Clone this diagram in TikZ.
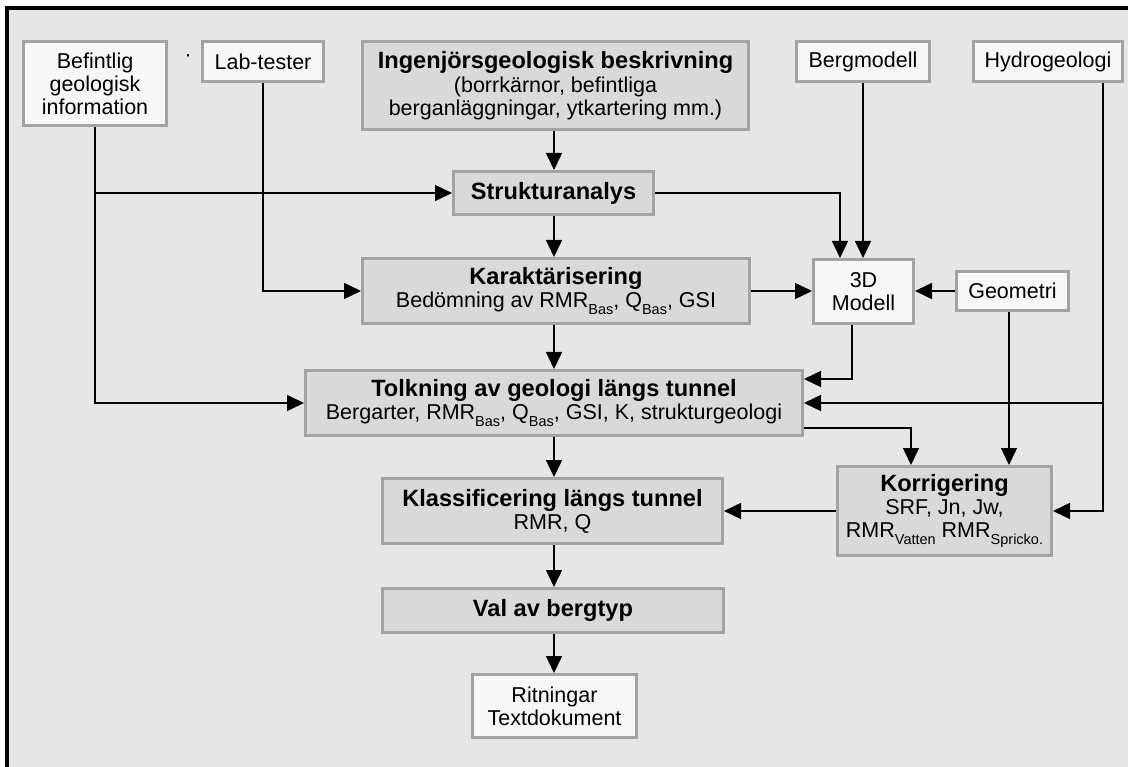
\documentclass[tikz,border=0pt]{standalone}
\usepackage{fontspec}
\setmainfont{Liberation Sans}
\usetikzlibrary{arrows.meta,calc}
\definecolor{bgc}{RGB}{230,230,230}
\definecolor{gbox}{RGB}{217,217,217}
\definecolor{wbox}{RGB}{247,247,247}
\definecolor{bord}{RGB}{163,163,163}
\newcommand{\lowsub}[1]{\raisebox{-0.3em}{\fontsize{14.5}{14.5}\selectfont #1}}
\newcommand{\ttl}[1]{{\fontsize{23.6}{25}\selectfont\bfseries #1}}
\tikzset{
  box/.style={draw=bord, line width=3pt, inner sep=0pt, align=center,
    font=\fontsize{21.5}{23}\selectfont, text=black},
  graybox/.style={box, fill=gbox},
  whitebox/.style={box, fill=wbox},
  arr/.style={line width=1.5pt, -{Triangle[length=17pt,width=16pt]}},
  ln/.style={line width=1.5pt}
}
\begin{document}
\begin{tikzpicture}[x=1pt,y=-1pt]
\useasboundingbox (0,0) rectangle (1128,767);
\fill[white] (0,0) rectangle (1128,767);
\fill[bgc] (7,8) rectangle (1128,767);
\draw[line width=4pt] (7,767) -- (7,8) -- (1128,8);

% nodes
\node[whitebox, minimum width=143pt, minimum height=84pt] (bef) at (95,83.5) {Befintlig\\geologisk\\information};
\node[font=\fontsize{21}{23}\selectfont] (dot) at (188,58) {·};
\node[whitebox, minimum width=121pt, minimum height=40pt] (lab) at (263,61.5) {Lab-tester};
\node[graybox, minimum width=386pt, minimum height=88pt] (ing) at (555.5,85.5)
  {\ttl{Ingenjörsgeologisk beskrivning}\\[1pt](borrkärnor, befintliga\\berganläggningar, ytkartering mm.)};
\node[whitebox, minimum width=133pt, minimum height=40pt] (berg) at (863,61.5) {Bergmodell};
\node[whitebox, minimum width=149pt, minimum height=40pt] (hyd) at (1048,61.5) {Hydrogeologi};
\node[graybox, minimum width=200pt, minimum height=43pt] (str) at (553.5,193) {\ttl{Strukturanalys}};
\node[graybox, minimum width=387pt, minimum height=65pt] (kar) at (556,291)
  {\ttl{Karaktärisering}\\Bedömning av RMR\lowsub{Bas}, Q\lowsub{Bas}, GSI};
\node[whitebox, minimum width=100pt, minimum height=64pt] (m3d) at (863.5,291.5) {3D\\Modell};
\node[whitebox, minimum width=112pt, minimum height=39pt] (geo) at (1012.5,291) {Geometri};
\node[graybox, minimum width=497pt, minimum height=65pt] (tol) at (554,403)
  {\ttl{Tolkning av geologi längs tunnel}\\Bergarter, RMR\lowsub{Bas}, Q\lowsub{Bas}, GSI, K, strukturgeologi};
\node[graybox, minimum width=214pt, minimum height=89pt] (kor) at (944.5,511)
  {\ttl{Korrigering}\\SRF, Jn, Jw,\\RMR\lowsub{Vatten} RMR\lowsub{Spricko.}};
\node[graybox, minimum width=340pt, minimum height=65pt] (kla) at (552.5,511)
  {\ttl{Klassificering längs tunnel}\\RMR, Q};
\node[graybox, minimum width=341pt, minimum height=44pt] (val) at (553,610.5) {\ttl{Val av bergtyp}};
\node[whitebox, minimum width=164pt, minimum height=63pt] (rit) at (554.5,706) {Ritningar\\Textdokument};

\coordinate (col) at (554,0);

% vertical main chain
\draw[arr] (ing.south -| col) -- (str.north -| col);
\draw[arr] (str.south -| col) -- (kar.north -| col);
\draw[arr] (kar.south -| col) -- (tol.north -| col);
\draw[arr] (tol.south -| col) -- (kla.north -| col);
\draw[arr] (kla.south -| col) -- (val.north -| col);
\draw[arr] (val.south -| col) -- (rit.north -| col);

% left feeders
\draw[arr] (bef.south) |- (tol.west);
\draw[arr] (bef.south |- str.west) -- (str.west);
\draw[arr] (lab.south) |- (kar.west);

% to 3D model
\draw[arr] (str.east) -| ([xshift=-23.5pt]m3d.north);
\draw[arr] (berg.south) -- (berg.south |- m3d.north);
\draw[arr] (kar.east) -- (kar.east -| m3d.west);
\draw[arr] (geo.west) -- (geo.west -| m3d.east);

% 3D model to Tolkning
\draw[arr] ([xshift=-11.5pt]m3d.south) |- ([yshift=24pt]tol.east);

% Hydrogeologi
\draw[arr] ([xshift=55pt]hyd.south) |- (kor.east);
\draw[arr] ([xshift=55pt]hyd.south |- tol.east) -- (tol.east);

% Tolkning to Korrigering
\draw[arr] ([yshift=-25pt]tol.east) -| ([xshift=-33.5pt]kor.north);
% Geometri to Korrigering
\draw[arr] ([xshift=-3.5pt]geo.south) -- ([xshift=-3.5pt]geo.south |- kor.north);
% Korrigering to Klassificering
\draw[arr] (kor.west) -- (kor.west -| kla.east);
\end{tikzpicture}
\end{document}
